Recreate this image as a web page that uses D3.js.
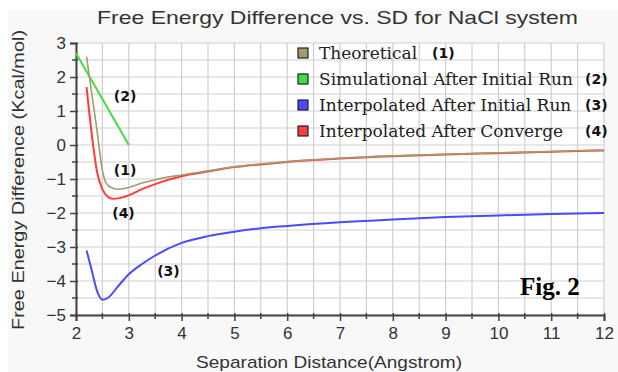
<!DOCTYPE html>
<html>
<head>
<meta charset="utf-8">
<script src="https://cdn.jsdelivr.net/npm/d3@7"></script>
<style>
  body { margin: 0; background: #fff; }
  svg { display: block; }
  .tick text { font-family: "Liberation Sans", Arial, sans-serif; font-size: 17px; fill: #333; }
</style>
</head>
<body>
<script>
// data
var theoX = [2.2, 2.3, 2.4, 2.5, 2.55, 2.6, 2.7, 2.8, 3.0, 3.25, 3.5, 4.0, 4.5, 5, 5.5, 6, 7, 8, 9, 10, 11, 12];
var theoY = [2.6, 1.5, 0.4, -0.75, -1.05, -1.18, -1.27, -1.3, -1.25, -1.12, -1.02, -0.88, -0.76, -0.64, -0.56, -0.49, -0.39, -0.32, -0.27, -0.23, -0.19, -0.15];

var simX = [2, 2.5, 3];
var simY = [2.7, 1.35, 0];

var interpX = [2.2, 2.3, 2.4, 2.5, 2.6, 2.8, 3.0, 3.25, 3.5, 4.0, 4.5, 5, 5.5, 6, 7, 8, 9, 10, 11, 12];
var interpY = [-3.1, -3.7, -4.3, -4.55, -4.5, -4.15, -3.8, -3.5, -3.25, -2.88, -2.68, -2.55, -2.45, -2.38, -2.27, -2.19, -2.12, -2.07, -2.03, -2.0];

var convX = [2.2, 2.3, 2.4, 2.5, 2.6, 2.7, 2.8, 3.0, 3.25, 3.5, 4.0, 4.5, 5, 5.5, 6, 7, 8, 9, 10, 11, 12];
var convY = [1.7, 0.3, -0.8, -1.3, -1.52, -1.58, -1.57, -1.48, -1.3, -1.15, -0.92, -0.78, -0.65, -0.57, -0.5, -0.4, -0.33, -0.28, -0.24, -0.2, -0.16];

var seriesNames = ["Theoretical", "Simulational After Initial Run", "Interpolated After Initial Run", "Interpolated After Converge"];
var seriesTags = ["(1)", "(2)", "(3)", "(4)"];
var seriesColors = ["#a39c6c", "#3ee03e", "#4a4aff", "#ff3c3c"];

var xTicks = [2, 3, 4, 5, 6, 7, 8, 9, 10, 11, 12];
var yTicks = [3, 2, 1, 0, -1, -2, -3, -4, -5];

var W = 618, H = 372;
var margin = {top: 43, right: 14, bottom: 57, left: 76},
    width = W - margin.left - margin.right,
    height = H - margin.top - margin.bottom;

var x = d3.scaleLinear().domain([2, 12]).range([0, width]);
var y = d3.scaleLinear().domain([-5, 3]).range([height, 0]);

var root = d3.select("body").append("svg")
    .attr("width", W)
    .attr("height", H);

// light panel behind everything
root.append("rect")
    .attr("x", 8).attr("y", 10)
    .attr("width", W - 8).attr("height", H - 10)
    .attr("fill", "#f8f8f8");

var svg = root.append("g")
    .attr("transform", "translate(" + margin.left + "," + margin.top + ")");

svg.append("rect")
    .attr("width", width).attr("height", height)
    .attr("fill", "#fff");

// grid every half unit
var halfX = d3.range(2, 12.01, 0.5), halfY = d3.range(-5, 3.01, 0.5);
svg.append("g").selectAll("line")
    .data(halfX)
  .enter().append("line")
    .attr("x1", function(d) { return x(d); })
    .attr("x2", function(d) { return x(d); })
    .attr("y1", 0).attr("y2", height)
    .attr("stroke", "#cfcfcf").attr("stroke-width", 1.2);
svg.append("g").selectAll("line")
    .data(halfY)
  .enter().append("line")
    .attr("y1", function(d) { return y(d); })
    .attr("y2", function(d) { return y(d); })
    .attr("x1", 0).attr("x2", width)
    .attr("stroke", "#cfcfcf").attr("stroke-width", 1.2);

// axes
var xAxis = d3.axisBottom(x).tickValues(xTicks).tickSize(6).tickPadding(6).tickFormat(d3.format("d"));
var yAxis = d3.axisLeft(y).tickValues(yTicks).tickSize(6).tickPadding(4).tickFormat(d3.format("d"));

var gx = svg.append("g")
    .attr("transform", "translate(0," + height + ")")
    .call(xAxis);
var gy = svg.append("g").call(yAxis);

[gx, gy].forEach(function(g) {
  g.select(".domain").attr("stroke", "#444").attr("stroke-width", 2);
  g.selectAll(".tick line").attr("stroke", "#444").attr("stroke-width", 1.5);
});
gx.selectAll(".tick line").attr("y1", -2);
gy.selectAll(".tick line").attr("x1", 2);

// minor ticks
svg.append("g").selectAll("line")
    .data(halfX.filter(function(d) { return d % 1 !== 0; }))
  .enter().append("line")
    .attr("x1", function(d) { return x(d); })
    .attr("x2", function(d) { return x(d); })
    .attr("y1", height - 2).attr("y2", height + 4)
    .attr("stroke", "#444").attr("stroke-width", 1.5);
svg.append("g").selectAll("line")
    .data(halfY.filter(function(d) { return d % 1 !== 0; }))
  .enter().append("line")
    .attr("y1", function(d) { return y(d); })
    .attr("y2", function(d) { return y(d); })
    .attr("x1", 2).attr("x2", -4)
    .attr("stroke", "#444").attr("stroke-width", 1.5);

// curves
var series = [
  {xs: theoX, ys: theoY},
  {xs: simX, ys: simY},
  {xs: interpX, ys: interpY},
  {xs: convX, ys: convY}
];
var line = d3.line()
    .x(function(d) { return x(d[0]); })
    .y(function(d) { return y(d[1]); })
    .curve(d3.curveMonotoneX);

// draw order: red under olive so the olive shows on top
[3, 2, 1, 0].forEach(function(i) {
  var s = series[i];
  svg.append("path")
      .datum(d3.zip(s.xs, s.ys))
      .attr("fill", "none")
      .attr("stroke", seriesColors[i])
      .attr("stroke-width", i === 0 ? 1.6 : 2)
      .attr("d", line);
});

// tags next to the curves
var tagSpots = [[2.93, -0.75], [2.93, 1.45], [3.75, -3.7], [2.9, -2.0]];
svg.append("g").selectAll("text")
    .data(tagSpots)
  .enter().append("text")
    .attr("x", function(d) { return x(d[0]); })
    .attr("y", function(d) { return y(d[1]); })
    .attr("text-anchor", "middle")
    .attr("dy", ".35em")
    .style("font-family", "'DejaVu Sans', sans-serif")
    .style("font-weight", "bold")
    .style("font-size", "14px")
    .attr("fill", "#111")
    .text(function(d, i) { return seriesTags[i]; });

// legend
var legend = svg.selectAll(".legend")
    .data(seriesNames)
  .enter().append("g")
    .attr("class", "legend")
    .attr("transform", function(d, i) { return "translate(222," + (10 + i * 26) + ")"; });

legend.append("rect")
    .attr("x", 0).attr("y", -5)
    .attr("width", 10).attr("height", 10)
    .attr("fill", function(d, i) { return seriesColors[i]; })
    .attr("stroke", "#222").attr("stroke-width", 1.2);

legend.append("text")
    .attr("x", 21)
    .attr("dy", ".35em")
    .style("font-family", "'DejaVu Serif', serif")
    .style("font-size", "17px")
    .attr("fill", "#222")
    .text(function(d) { return d; });

legend.append("text")
    .attr("x", function(d, i) { return i === 0 ? 134 : 287; })
    .attr("dy", ".35em")
    .style("font-family", "'DejaVu Sans', sans-serif")
    .style("font-weight", "bold")
    .style("font-size", "14px")
    .attr("fill", "#111")
    .text(function(d, i) { return seriesTags[i]; });

// figure mark
svg.append("text")
    .attr("x", 520 - margin.left)
    .attr("y", y(-4.4))
    .style("font-family", "'Liberation Serif', serif")
    .style("font-weight", "bold")
    .style("font-size", "25px")
    .attr("fill", "#000")
    .text("Fig. 2");

// titles
root.append("text")
    .attr("x", 97).attr("y", 24)
    .attr("textLength", 481)
    .attr("lengthAdjust", "spacingAndGlyphs")
    .style("font-family", "'Liberation Sans', Arial, sans-serif")
    .style("font-size", "19px")
    .attr("fill", "#333")
    .text("Free Energy Difference vs. SD for NaCl system");

root.append("text")
    .attr("x", 196).attr("y", 368)
    .attr("textLength", 266)
    .attr("lengthAdjust", "spacingAndGlyphs")
    .style("font-family", "'Liberation Sans', Arial, sans-serif")
    .style("font-size", "17px")
    .attr("fill", "#333")
    .text("Separation Distance(Angstrom)");

root.append("text")
    .attr("transform", "translate(24,330) rotate(-90)")
    .attr("textLength", 300)
    .attr("lengthAdjust", "spacingAndGlyphs")
    .style("font-family", "'Liberation Sans', Arial, sans-serif")
    .style("font-size", "17px")
    .attr("fill", "#333")
    .text("Free Energy Difference (Kcal/mol)");
</script>
</body>
</html>
